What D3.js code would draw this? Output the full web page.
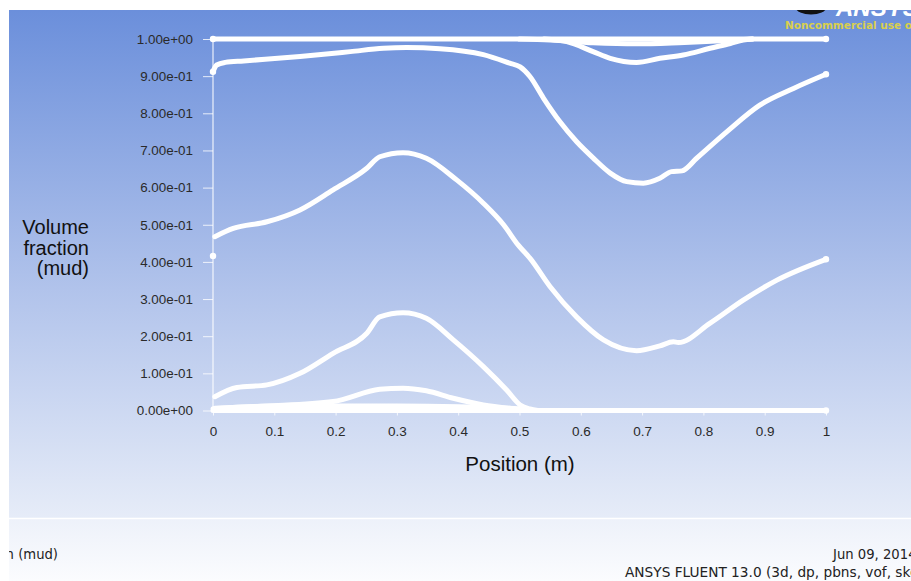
<!DOCTYPE html>
<html><head><meta charset="utf-8">
<script src="https://cdn.jsdelivr.net/npm/d3@7"></script>
<style>html,body{margin:0;padding:0;background:#fff;}svg{display:block;}</style>
</head><body>
<svg id="chart" width="911" height="581"></svg>
<script>
// ---- data ----
const xTicks = [0, 0.1, 0.2, 0.3, 0.4, 0.5, 0.6, 0.7, 0.8, 0.9, 1];
const xTickLabels = ["0", "0.1", "0.2", "0.3", "0.4", "0.5", "0.6", "0.7", "0.8", "0.9", "1"];
const yTicks = [0, 0.1, 0.2, 0.3, 0.4, 0.5, 0.6, 0.7, 0.8, 0.9, 1.0];
const yTickLabels = ["0.00e+00","1.00e-01","2.00e-01","3.00e-01","4.00e-01","5.00e-01","6.00e-01","7.00e-01","8.00e-01","9.00e-01","1.00e+00"];

const lineTop = [[0,1.0],[1,1.0]];
const lineDipDeep = [[0.54,1.0],[0.577,0.993],[0.62,0.966],[0.648,0.948],[0.691,0.937],[0.729,0.948],[0.767,0.957],[0.811,0.975],[0.844,0.988],[0.865,0.997],[0.88,1.0]];
const lineDipShallow = [[0.5,1.0],[0.55,0.997],[0.62,0.99],[0.69,0.987],[0.76,0.99],[0.83,0.995],[0.88,1.0]];
const lineUpper = [[0,0.912],[0.006,0.930],[0.02,0.937],[0.05,0.941],[0.142,0.953],[0.224,0.966],[0.278,0.975],[0.316,0.977],[0.37,0.974],[0.441,0.958],[0.484,0.935],[0.501,0.925],[0.517,0.899],[0.539,0.841],[0.566,0.777],[0.593,0.724],[0.62,0.68],[0.648,0.639],[0.675,0.616],[0.702,0.612],[0.729,0.625],[0.748,0.643],[0.765,0.645],[0.789,0.679],[0.838,0.75],[0.892,0.822],[0.947,0.867],[1.0,0.905]];
const lineMiddle = [[0.003,0.468],[0.033,0.49],[0.088,0.508],[0.142,0.54],[0.196,0.594],[0.251,0.652],[0.272,0.683],[0.31,0.694],[0.348,0.679],[0.398,0.62],[0.441,0.558],[0.474,0.5],[0.498,0.445],[0.517,0.41],[0.55,0.333],[0.593,0.252],[0.637,0.19],[0.691,0.161],[0.729,0.174],[0.751,0.185],[0.759,0.183],[0.811,0.235],[0.865,0.297],[0.92,0.351],[1.0,0.407]];
const lineLower = [[0.003,0.037],[0.039,0.062],[0.088,0.069],[0.142,0.1],[0.196,0.154],[0.251,0.208],[0.272,0.252],[0.31,0.263],[0.348,0.248],[0.392,0.19],[0.441,0.118],[0.479,0.055],[0.501,0.015],[0.517,0.004],[0.53,0.0]];
const lineBump = [[0.003,0.006],[0.088,0.012],[0.196,0.024],[0.272,0.057],[0.31,0.06],[0.348,0.053],[0.392,0.033],[0.441,0.015],[0.495,0.004],[0.52,0.0]];
const lineBase = [[0,0.005],[0.1,0.012],[0.2,0.012],[0.3,0.012],[0.4,0.01],[0.5,0.004],[0.52,0.0]];
const lineZero = [[0,0.0],[1,0.0]];
const isolatedPoints = [[0,0.416]];
const curves = [lineTop, lineDipShallow, lineDipDeep, lineUpper, lineMiddle, lineLower, lineBump, lineBase, lineZero];
const endDots = [[0,0.912],[1,0.905],[1,0.407],[1,1.0],[1,0.0],[0,1.0]];

// ---- drawing ----
const svg = d3.select("#chart");
const W = 911, H = 581;
const defs = svg.append("defs");
const g1 = defs.append("linearGradient").attr("id","bg").attr("x1",0).attr("y1",0).attr("x2",0).attr("y2",1);
g1.append("stop").attr("offset","0%").attr("stop-color","#6b8fdb");
g1.append("stop").attr("offset","55%").attr("stop-color","#b1c3eb");
g1.append("stop").attr("offset","100%").attr("stop-color","#e6ecf8");
const g2 = defs.append("linearGradient").attr("id","bg2").attr("x1",0).attr("y1",0).attr("x2",0).attr("y2",1);
g2.append("stop").attr("offset","0%").attr("stop-color","#edf1fa");
g2.append("stop").attr("offset","100%").attr("stop-color","#fbfcfe");
defs.append("clipPath").attr("id","panelClip").append("rect").attr("x",9).attr("y",10).attr("width",W-9).attr("height",H-10);

svg.append("rect").attr("width",W).attr("height",H).attr("fill","#ffffff");
const panel = svg.append("g").attr("clip-path","url(#panelClip)");
panel.append("rect").attr("x",9).attr("y",10).attr("width",W-9).attr("height",508).attr("fill","url(#bg)");
panel.append("rect").attr("x",9).attr("y",518).attr("width",W-9).attr("height",H-518).attr("fill","url(#bg2)");
panel.append("line").attr("x1",9).attr("x2",W).attr("y1",518.5).attr("y2",518.5).attr("stroke","#ffffff").attr("stroke-width",1.5);

// logo (cut at top edge, as in the reference)
panel.append("ellipse").attr("cx",811).attr("cy",8).attr("rx",15).attr("ry",6.5).attr("fill","#111");
panel.append("text").attr("x",836).attr("y",16).attr("font-family","Liberation Sans, Arial, sans-serif").attr("font-weight","bold").attr("font-style","italic").attr("font-size",24).attr("fill","#ffffff").text("ANSYS");
panel.append("text").attr("x",785).attr("y",29).attr("font-family","DejaVu Sans, sans-serif").attr("font-weight","bold").attr("font-size",10.5).attr("fill","#d9cf4c").text("Noncommercial use only");

const x = d3.scaleLinear().domain([0,1]).range([213,826]);
const y = d3.scaleLinear().domain([0,1]).range([410.5,39]);

const font = "Liberation Sans, Arial, sans-serif";
// y axis
const yAxis = panel.append("g").attr("transform","translate(213,0)")
  .call(d3.axisLeft(y).tickValues(yTicks).tickFormat((d,i)=>yTickLabels[i]).tickSize(10).tickPadding(10));
yAxis.select(".domain").attr("stroke","#ffffff").attr("stroke-opacity",0.85).attr("stroke-width",1.2).attr("d","M0,39V410.5");
yAxis.selectAll(".tick line").attr("stroke","#ffffff").attr("stroke-opacity",0.8);
yAxis.selectAll(".tick text").attr("font-family",font).attr("font-size",13.4).attr("fill","#2a2a2a");
// x axis
const xAxis = panel.append("g").attr("transform","translate(0,410.5)")
  .call(d3.axisBottom(x).tickValues(xTicks).tickFormat((d,i)=>xTickLabels[i]).tickSize(5).tickPadding(11));
xAxis.select(".domain").attr("stroke","#ffffff").attr("stroke-opacity",0.85).attr("d","M213,0H826");
xAxis.selectAll(".tick line").attr("stroke","#ffffff").attr("stroke-opacity",0.8);
xAxis.selectAll(".tick text").attr("font-family",font).attr("font-size",13.5).attr("fill","#2a2a2a");

// curves
const line = d3.line().x(d=>x(d[0])).y(d=>y(d[1])).curve(d3.curveMonotoneX);
panel.append("g").selectAll("path").data(curves).join("path")
  .attr("d",line).attr("fill","none").attr("stroke","#ffffff").attr("stroke-width",5)
  .attr("stroke-linecap","round").attr("stroke-linejoin","round");
panel.append("g").selectAll("circle").data(isolatedPoints.concat(endDots)).join("circle")
  .attr("cx",d=>x(d[0])).attr("cy",d=>y(d[1])).attr("r",3.2).attr("fill","#ffffff");

// titles
const yt = panel.append("text").attr("font-family",font).attr("font-size",20).attr("fill","#111").attr("text-anchor","end");
[["Volume",234],["fraction",254.5],["(mud)",275]].forEach(([t,yy])=>yt.append("tspan").attr("x",89).attr("y",yy).text(t));
panel.append("text").attr("x",520).attr("y",471).attr("text-anchor","middle").attr("font-family",font).attr("font-size",20.5).attr("fill","#111").text("Position (m)");

// footer
const ffont = "DejaVu Sans, Verdana, sans-serif";
panel.append("text").attr("x",58).attr("y",559).attr("text-anchor","end").attr("font-family",ffont).attr("font-size",13.2).attr("fill","#222").text("Volume fraction (mud)");
panel.append("text").attr("x",833).attr("y",559).attr("font-family",ffont).attr("font-size",13.2).attr("fill","#222").text("Jun 09, 2014");
panel.append("text").attr("x",625).attr("y",577).attr("font-family",ffont).attr("font-size",13.7).attr("fill","#222").text("ANSYS FLUENT 13.0 (3d, dp, pbns, vof, ske)");
</script>
</body></html>
